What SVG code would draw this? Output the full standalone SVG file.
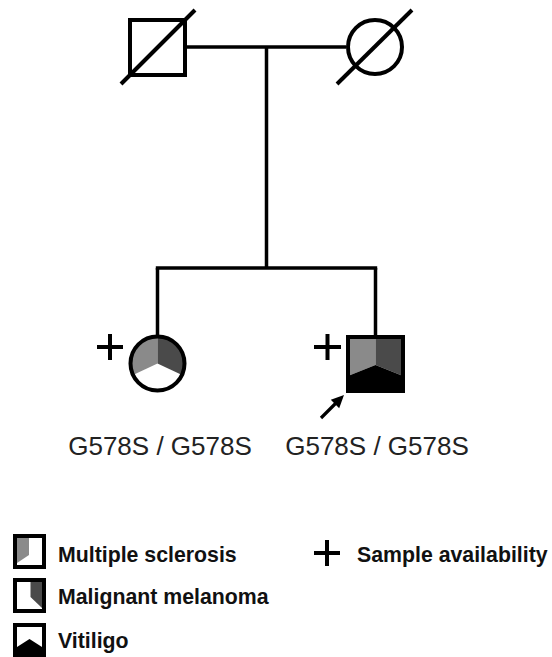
<svg xmlns="http://www.w3.org/2000/svg" width="552" height="657" viewBox="0 0 552 657">
<style>
.ln{stroke:#000;stroke-width:3.5;fill:none}
.sym{stroke:#000;stroke-width:4;fill:none}
.lg{fill:#8a8a8a}
.dk{fill:#4a4a4a}
.bk{fill:#000}
.geno{font-family:"Liberation Sans",Arial,sans-serif;font-size:26px;fill:#222}
.leg{font-family:"Liberation Sans",Arial,sans-serif;font-size:21.3px;font-weight:bold;fill:#111}
</style>
<g id="connectors">
<line class="ln" x1="187" y1="47" x2="346" y2="47"/>
<line class="ln" x1="266.5" y1="47" x2="266.5" y2="268"/>
<line class="ln" x1="155.8" y1="268" x2="377.2" y2="268"/>
<line class="ln" x1="157.5" y1="268" x2="157.5" y2="336"/>
<line class="ln" x1="375.5" y1="268" x2="375.5" y2="335"/>
</g>
<g id="father">
<rect class="sym" x="130" y="20" width="55" height="55" fill="#fff"/>
<line class="sym" x1="121" y1="84" x2="195" y2="10"/>
</g>
<g id="mother">
<circle class="sym" cx="375" cy="47" r="27" fill="#fff"/>
<line class="sym" x1="337" y1="84" x2="412" y2="10"/>
</g>
<g id="daughter">
<circle cx="157.5" cy="363.5" r="27" fill="#fff"/>
<path class="lg" d="M157.5,363.5 L157.5,336.5 A27,27 0 0 0 133.0,374.9 Z"/>
<path class="dk" d="M157.5,363.5 L157.5,336.5 A27,27 0 0 1 182.0,374.9 Z"/>
<circle class="sym" cx="157.5" cy="363.5" r="27"/>
<line class="sym" x1="97" y1="347" x2="123" y2="347"/>
<line class="sym" x1="110" y1="334" x2="110" y2="360"/>
<text class="geno" x="160" y="455" text-anchor="middle">G578S / G578S</text>
</g>
<g id="proband">
<rect x="348" y="337" width="55" height="54" fill="#fff"/>
<path class="lg" d="M348,337 L375.5,337 L375.5,365 L348,376 Z"/>
<path class="dk" d="M375.5,337 L403,337 L403,376 L375.5,365 Z"/>
<path class="bk" d="M348,376 L375.5,365 L403,376 L403,391 L348,391 Z"/>
<rect class="sym" x="348" y="337" width="55" height="54"/>
<line class="sym" x1="314" y1="347" x2="341" y2="347"/>
<line class="sym" x1="327.5" y1="334" x2="327.5" y2="360"/>
<line x1="321" y1="418" x2="336" y2="403" stroke="#000" stroke-width="3.2"/>
<polygon points="344,395 339.2,408.2 330.8,399.8" fill="#000"/>
<text class="geno" x="377" y="455" text-anchor="middle">G578S / G578S</text>
</g>
<g id="legend-ms">
<rect x="15" y="536" width="29" height="31" fill="#fff"/>
<path class="lg" d="M17,538 L29,538 L29,555 L17,563 Z"/>
<rect class="sym" x="15" y="536" width="29" height="31"/>
<text class="leg" x="58" y="562">Multiple sclerosis</text>
</g>
<g id="legend-mm">
<rect x="15" y="580" width="29" height="31" fill="#fff"/>
<path class="dk" d="M30.5,582 L42,582 L42,608 L30.5,597 Z"/>
<rect class="sym" x="15" y="580" width="29" height="31"/>
<text class="leg" x="58" y="604">Malignant melanoma</text>
</g>
<g id="legend-vit">
<rect x="15" y="625" width="29" height="31" fill="#fff"/>
<path class="bk" d="M17,647 L29.5,639 L42,647 L42,656 L17,656 Z"/>
<rect class="sym" x="15" y="625" width="29" height="31"/>
<text class="leg" x="58" y="648">Vitiligo</text>
</g>
<g id="legend-sample">
<line class="sym" x1="314" y1="553" x2="340" y2="553"/>
<line class="sym" x1="327" y1="540" x2="327" y2="566"/>
<text class="leg" x="357" y="562">Sample availability</text>
</g>
</svg>
